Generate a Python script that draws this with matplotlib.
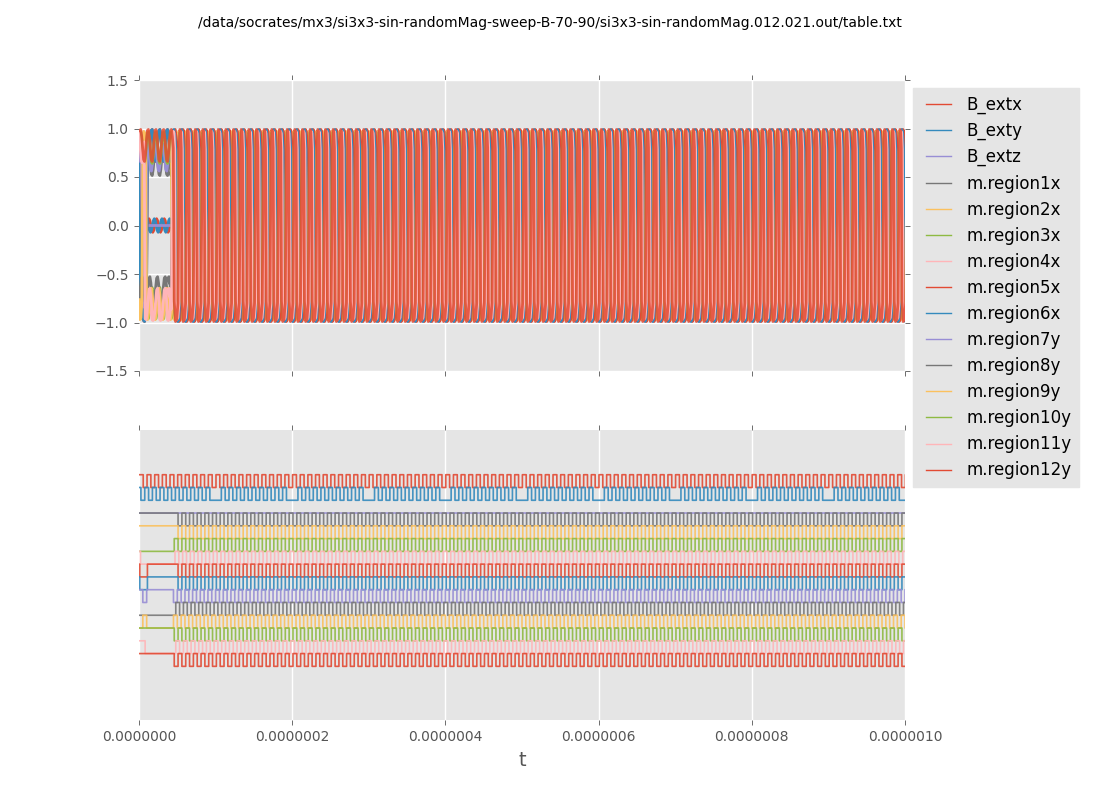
import numpy as np
import matplotlib
matplotlib.use('Agg')
import matplotlib.pyplot as plt
from matplotlib.ticker import FormatStrFormatter

TITLE = '/data/socrates/mx3/si3x3-sin-randomMag-sweep-B-70-90/si3x3-sin-randomMag.012.021.out/table.txt'

names = ['B_extx', 'B_exty', 'B_extz', 'm.region1x', 'm.region2x', 'm.region3x', 'm.region4x', 'm.region5x',
         'm.region6x', 'm.region7y', 'm.region8y', 'm.region9y', 'm.region10y', 'm.region11y', 'm.region12y']
colors = ['#E24A33', '#348ABD', '#988ED5', '#777777', '#FBC15E', '#8EBA42', '#FFB5B8',
          '#E24A33', '#348ABD', '#988ED5', '#777777', '#FBC15E', '#8EBA42', '#FFB5B8', '#E24A33']

# digitised state of each trace, one character per 5 ns
step_ns = 5.0
states = [
    '1010101010101010101010101010101010101010 1010101010101010101010101010101010101010 1010101010101010101010101010101010101010 1010101010101010101010101010101010101010 1010101010101010101010101010101010101010 1010101010',
    '1 01010101010101010100 01010101010101010100 01010101010101010100 01010101010101010100 01010101010101010100 01010101010101010100 01010101010101010100 01010101010101010100 01010101010101010100 01010101010101010100 0101',
    '0000000000000000000000000000000000000000 0000000000000000000000000000000000000000 0000000000000000000000000000000000000000 0000000000000000000000000000000000000000 0000000000000000000000000000000000000000 0000000000',
    '1111111111 0101010101010101010101010101010101010101 0101010101010101010101010101010101010101 0101010101010101010101010101010101010101 0101010101010101010101010101010101010101 0101010101010101010101010101010101010101',
    '1111111111 0101010101010101010101010101010101010101 0101010101010101010101010101010101010101 0101010101010101010101010101010101010101 0101010101010101010101010101010101010101 0101010101010101010101010101010101010101',
    '000000000 1010101010101010101010101010101010101010 1010101010101010101010101010101010101010 1010101010101010101010101010101010101010 1010101010101010101010101010101010101010 1010101010101010101010101010101010101010',
    '1000000000 1010101010101010101010101010101010101010 1010101010101010101010101010101010101010 1010101010101010101010101010101010101010 1010101010101010101010101010101010101010 1010101010101010101010101010101010101010',
    '100 11111111 0101010101010101010101010101010101010101 0101010101010101010101010101010101010101 0101010101010101010101010101010101010101 0101010101010101010101010101010101010101 0101010101010101010101010101010101010101',
    '100 11111111 0101010101010101010101010101010101010101 0101010101010101010101010101010101010101 0101010101010101010101010101010101010101 0101010101010101010101010101010101010101 0101010101010101010101010101010101010101',
    '10 1111111 0101010101010101010101010101010101010101 0101010101010101010101010101010101010101 0101010101010101010101010101010101010101 0101010101010101010101010101010101010101 0101010101010101010101010101010101010101',
    '0000000000 1010101010101010101010101010101010101010 1010101010101010101010101010101010101010 1010101010101010101010101010101010101010 1010101010101010101010101010101010101010 1010101010101010101010101010101010101010',
    '01 0000000 1010101010101010101010101010101010101010 1010101010101010101010101010101010101010 1010101010101010101010101010101010101010 1010101010101010101010101010101010101010 1010101010101010101010101010101010101010',
    '111111111 0101010101010101010101010101010101010101 0101010101010101010101010101010101010101 0101010101010101010101010101010101010101 0101010101010101010101010101010101010101 0101010101010101010101010101010101010101',
    '11 00000000 1010101010101010101010101010101010101010 1010101010101010101010101010101010101010 1010101010101010101010101010101010101010 1010101010101010101010101010101010101010 1010101010101010101010101010101010101010',
    '111111111 0101010101010101010101010101010101010101 0101010101010101010101010101010101010101 0101010101010101010101010101010101010101 0101010101010101010101010101010101010101 0101010101010101010101010101010101010101',
]
# time of the first character of each trace, ns
start_ns = [0.5, -2.5, 0, 1, 1, 1, -3, -4, -4, 0, -2, 0, 1, -2, 1]
# upper panel only: shift of the oscillating part, and how long a high state lasts in it, ns
top_lag_ns = [0, 0, 0, -5, -5, -3.5, -4.5, 0, -1.7, 1, -5.5, -2.5, 0, -5.5, 0]
high_ns = [5, 5, 5, 3.5, 3.5, 3.5, 3.5, 5, 5, 3.5, 3.5, 3.5, 3.5, 3.5, 3.5]

# peak size of each trace in the upper panel
amplitude = [1.0, 1.0, 1.0, 0.78, 0.98, 0.97, 0.99, 1.0, 1.0, 0.85, 0.80, 0.98, 0.97, 0.98, 1.0]

# shape of one 5 ns stretch in the upper panel, four samples each
swing_shape = [0.78, 0.99, 0.97, 0.80]
flat_shape = [[0.98, 0.99, 0.92, 0.80], [0.68, 0.66, 0.74, 0.88]]
# one 10 ns period of the applied field
field_x = [0.0, 0.05, 0.07, 0.05, 0.0, -0.05, -0.07, -0.05]
field_z = [0.0, 0.0, 0.0, 0.0, 0.0, 0.0, 0.0, 0.0]

y_ticks = [-1.5, -1.0, -0.5, 0.0, 0.5, 1.0, 1.5]
t_ticks = [0.0, 2e-7, 4e-7, 6e-7, 8e-7, 1e-6]


def magnetisation(bits, amp):
    out = []
    for k, b in enumerate(bits):
        sign = 1 if b == '1' else -1
        flat = (k > 0 and bits[k - 1] == b) or (k + 1 < len(bits) and bits[k + 1] == b)
        shape = flat_shape[k % 2] if flat else swing_shape
        out.extend(sign * amp * s for s in shape)
    return np.array(out)


def top_times(bits, start, lag, high):
    # stretches before the oscillation starts keep 5 ns, after that high and low share 10 ns
    out = []
    t = start
    for k, b in enumerate(bits):
        if k == 9:
            t += lag
        dur = step_ns
        if k >= 9:
            dur = high if b == '1' else 2 * step_ns - high
        out.extend(t + dur * j / 4 for j in range(4))
        t += dur
    return np.array(out) * 1e-9


def style_axes(ax):
    ax.set_facecolor('#E5E5E5')
    ax.grid(color='white', linewidth=1, linestyle='-')
    ax.set_axisbelow(True)
    for s in ax.spines.values():
        s.set_visible(False)
    ax.tick_params(direction='out', length=3.5, width=0.6, color='#555555', labelcolor='#555555',
                   labelsize=10, top=True, right=True, pad=4)


fig = plt.figure(figsize=(11, 8), dpi=100)
ax1 = fig.add_axes([139 / 1100, 1 - 371 / 800, 766 / 1100, 291 / 800])
ax2 = fig.add_axes([139 / 1100, 1 - 720 / 800, 766 / 1100, 290 / 800])
style_axes(ax1)
style_axes(ax2)

for i, (name, color) in enumerate(zip(names, colors)):
    bits = states[i].replace(' ', '')
    t_step = (start_ns[i] + step_ns * np.arange(len(bits))) * 1e-9
    t_fine = top_times(bits, start_ns[i], top_lag_ns[i], high_ns[i])

    if i < 2:
        top = np.resize(field_x, t_fine.size)
    elif i == 2:
        top = np.resize(field_z, t_fine.size)
    else:
        top = magnetisation(bits, amplitude[i])
    # the last red sits over everything, let a bit of the rest show through it
    ax1.plot(t_fine, top, color=color, linewidth=2.0, alpha=0.85 if i == 14 else 1.0, label=name, snap=False)

    level = np.array([-i if b == '1' else -i - 1 for b in bits], dtype=float)
    ax2.plot(t_step, level, color=color, linewidth=1.2, alpha=0.9, drawstyle='steps-post', snap=False)

ax1.set_xlim(0, 1e-6)
ax2.set_xlim(0, 1e-6)
ax1.set_ylim(-1.5, 1.5)
ax2.set_ylim(-19.2, 3.5)
ax1.set_yticks(y_ticks)
ax1.set_xticks(t_ticks)
ax1.tick_params(labelbottom=False)
ax2.set_xticks(t_ticks)
ax2.set_yticks([])
ax2.xaxis.set_major_formatter(FormatStrFormatter('%.7f'))
ax2.set_xlabel('t', fontsize=14, color='#555555', labelpad=5)

fig.text(550 / 1100, 1 - 23 / 800, TITLE, ha='center', va='center', fontsize=10, color='black')

leg = ax1.legend(loc='upper left', bbox_to_anchor=(913 / 1100, 1 - 88 / 800),
                 bbox_transform=fig.transFigure, fontsize=12, frameon=True, fancybox=False,
                 facecolor='#E5E5E5', edgecolor='#E5E5E5', framealpha=1, borderaxespad=0,
                 labelspacing=0.485, handlelength=1.8, handletextpad=0.95, borderpad=0.45)
for line in leg.get_lines():
    line.set_linewidth(1.0)
    line.set_alpha(1.0)
    xd = line.get_xdata()
    line.set_xdata(np.linspace(xd[0] + 3.6, xd[-1], len(xd)))

fig.savefig('out.png', dpi=100)
